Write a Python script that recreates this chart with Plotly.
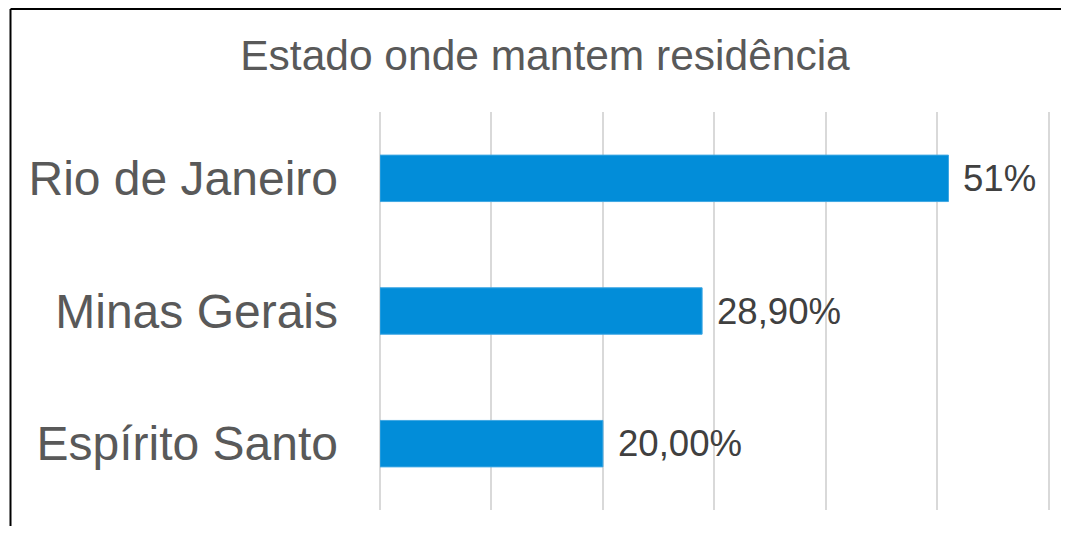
import plotly.graph_objects as go

categories = ["Rio de Janeiro", "Minas Gerais", "Espírito Santo"]
values = [51.0, 28.9, 20.0]
value_labels = ["51%", "28,90%", "20,00%"]
title_text = "Estado onde mantem residência"

# page body adds an 8px offset; size the figure so it fits the 1069x534 window
W, H = 1053, 518
ML, MR, MT, MB = 372, 10, 104, 16
pw = W - ML - MR
ph = H - MT - MB

fig = go.Figure()
fig.add_trace(go.Bar(
    y=categories, x=values, orientation="h",
    marker=dict(color="#028DD9", line=dict(color="#3FA7E3", width=1)),
    width=0.35, hoverinfo="skip",
))

for c, v, t in zip(categories, values, value_labels):
    fig.add_annotation(x=v, y=c, xref="x", yref="y", text=t, showarrow=False,
                       xanchor="left", yanchor="middle", xshift=13,
                       font=dict(family="Liberation Sans, Arial", size=36.6, color="#404040"))

# outer chart border (left and top edges visible in the frame)
bx0 = (2.5 - ML) / pw
bx1 = (W + 20 - ML) / pw
by0 = (ph - (H + 20 - MT)) / ph
by1 = (ph - (1 - MT)) / ph
fig.add_shape(type="line", xref="paper", yref="paper", x0=bx0, x1=bx0, y0=by0, y1=by1,
              line=dict(color="black", width=2), layer="above")
fig.add_shape(type="line", xref="paper", yref="paper", x0=bx0, x1=bx1, y0=by1, y1=by1,
              line=dict(color="black", width=2), layer="above")

fig.update_layout(
    width=W, height=H,
    margin=dict(l=ML, r=MR, t=MT, b=MB),
    paper_bgcolor="white", plot_bgcolor="white",
    showlegend=False,
    title=dict(text=title_text, x=537 / W, xanchor="center", xref="container",
               y=1 - 32.5 / H, yanchor="top", yref="container",
               font=dict(family="Liberation Sans, Arial", size=42.5, color="#595959")),
    xaxis=dict(range=[0, 60.2], dtick=10, showgrid=True, gridcolor="#D9D9D9", gridwidth=1.5,
               zeroline=True, zerolinecolor="#D9D9D9", zerolinewidth=1.5,
               showticklabels=False, showline=False, ticks="", fixedrange=True),
    yaxis=dict(categoryorder="array", categoryarray=categories, autorange="reversed",
               showgrid=False, zeroline=False, showline=False, ticks="",
               ticklabelstandoff=41,
               tickfont=dict(family="Liberation Sans, Arial", size=48, color="#595959")),
)

fig.write_html("out.html")
